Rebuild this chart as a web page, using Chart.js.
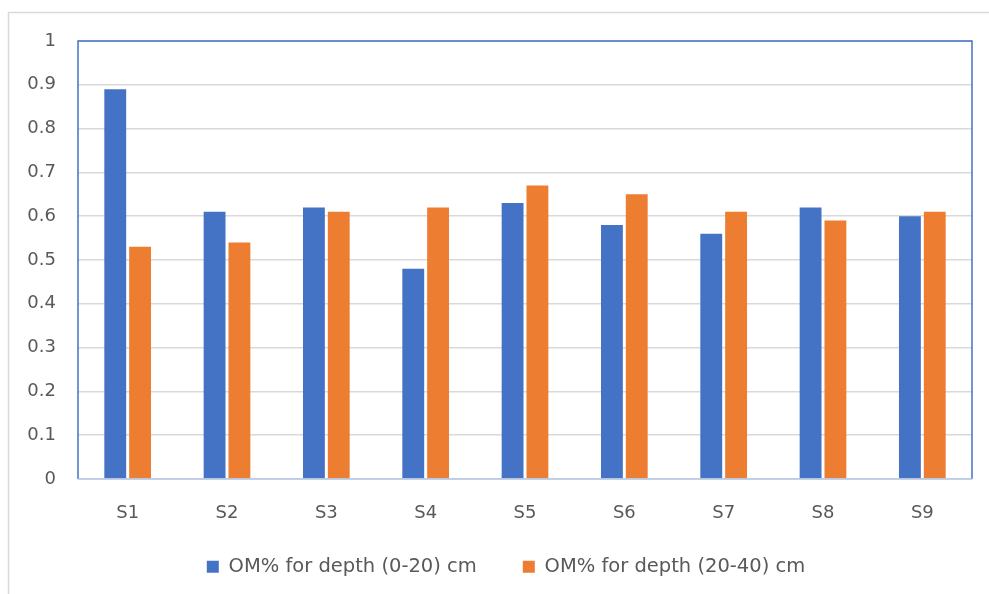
<!DOCTYPE html>
<html>
<head>
<meta charset="utf-8">
<script src="https://cdn.jsdelivr.net/npm/chart.js@4.4.0/dist/chart.umd.min.js"></script>
<style>
  html, body { margin: 0; padding: 0; background: #fff; }
  #wrap { width: 989px; height: 594px; position: relative; }
</style>
</head>
<body>
<div id="wrap"><canvas id="myChart"></canvas></div>
<script>
// sites and OM% values
let sites = ["S1", "S2", "S3", "S4", "S5", "S6", "S7", "S8", "S9"];
let om_0_20 = [0.89, 0.61, 0.62, 0.48, 0.63, 0.58, 0.56, 0.62, 0.60];
let om_20_40 = [0.53, 0.54, 0.61, 0.62, 0.67, 0.65, 0.61, 0.59, 0.61];
let yTicks = [0, 0.1, 0.2, 0.3, 0.4, 0.5, 0.6, 0.7, 0.8, 0.9, 1];

let txtColor = "#595959";
let fontFam = "'DejaVu Sans', sans-serif";

// frame around the figure + blue box around plot area
const framePlugin = {
  id: "frame",
  beforeDraw(chart) {
    // nudge legend: a bit up and to the right, like the original
    chart.legend.top = chart.chartArea.bottom + 32;
    chart.legend.left = 40;
    let ctx = chart.ctx;
    ctx.save();
    ctx.strokeStyle = "#d9d9d9";
    ctx.lineWidth = 1.5;
    ctx.beginPath();
    ctx.moveTo(8.5, 594);
    ctx.lineTo(8.5, 12.5);
    ctx.lineTo(989, 12.5);
    ctx.stroke();
    ctx.restore();
  },
  afterDraw(chart) {
    let a = chart.chartArea;
    let ctx = chart.ctx;
    ctx.save();
    ctx.lineWidth = 1.5;
    ctx.strokeStyle = "#4472c4";
    ctx.beginPath();
    ctx.moveTo(a.left, a.bottom);
    ctx.lineTo(a.left, a.top);
    ctx.lineTo(a.right, a.top);
    ctx.lineTo(a.right, a.bottom);
    ctx.stroke();
    ctx.strokeStyle = "#b4c7e7";
    ctx.beginPath();
    ctx.moveTo(a.left, a.bottom);
    ctx.lineTo(a.right, a.bottom);
    ctx.stroke();
    ctx.restore();
  }
};

let chart = new Chart("myChart", {
  type: "bar",
  data: {
    labels: sites,
    datasets: [{
      label: "OM% for depth (0-20) cm",
      backgroundColor: "#4472c4",
      data: om_0_20
    }, {
      label: "OM% for depth (20-40) cm",
      backgroundColor: "#ed7d31",
      data: om_20_40
    }]
  },
  options: {
    responsive: true,
    maintainAspectRatio: false,
    animation: false,
    datasets: { bar: { barPercentage: 0.88, categoryPercentage: 0.5 } },
    layout: { padding: { top: 41, right: 17, bottom: 0, left: 0 } },
    plugins: {
      tooltip: { enabled: false },
      legend: {
        position: "bottom",
        labels: {
          color: txtColor,
          font: { family: fontFam, size: 19.5 },
          boxWidth: 12,
          boxHeight: 12,
          padding: 46
        }
      }
    },
    scales: {
      x: {
        grid: { display: false, drawTicks: false },
        border: { display: false },
        ticks: { color: txtColor, font: { family: fontFam, size: 18 }, padding: 24 },
        afterFit(s) { s.height = 48; }
      },
      y: {
        min: 0,
        max: 1,
        afterBuildTicks(s) { s.ticks = yTicks.map(v => ({ value: v })); },
        grid: { color: "#d9d9d9", lineWidth: 1.5, drawTicks: false },
        border: { display: false },
        ticks: {
          color: txtColor,
          font: { family: fontFam, size: 18 },
          padding: 22,
          callback: v => String(v)
        },
        afterFit(s) { s.width = 78; }
      }
    }
  },
  plugins: [framePlugin]
});

// fixed legend height so plot area bottom stays at the right place
let legendFit = chart.legend.fit.bind(chart.legend);
chart.legend.fit = function () { legendFit(); this.height = 67; };
chart.update();
</script>
</body>
</html>
